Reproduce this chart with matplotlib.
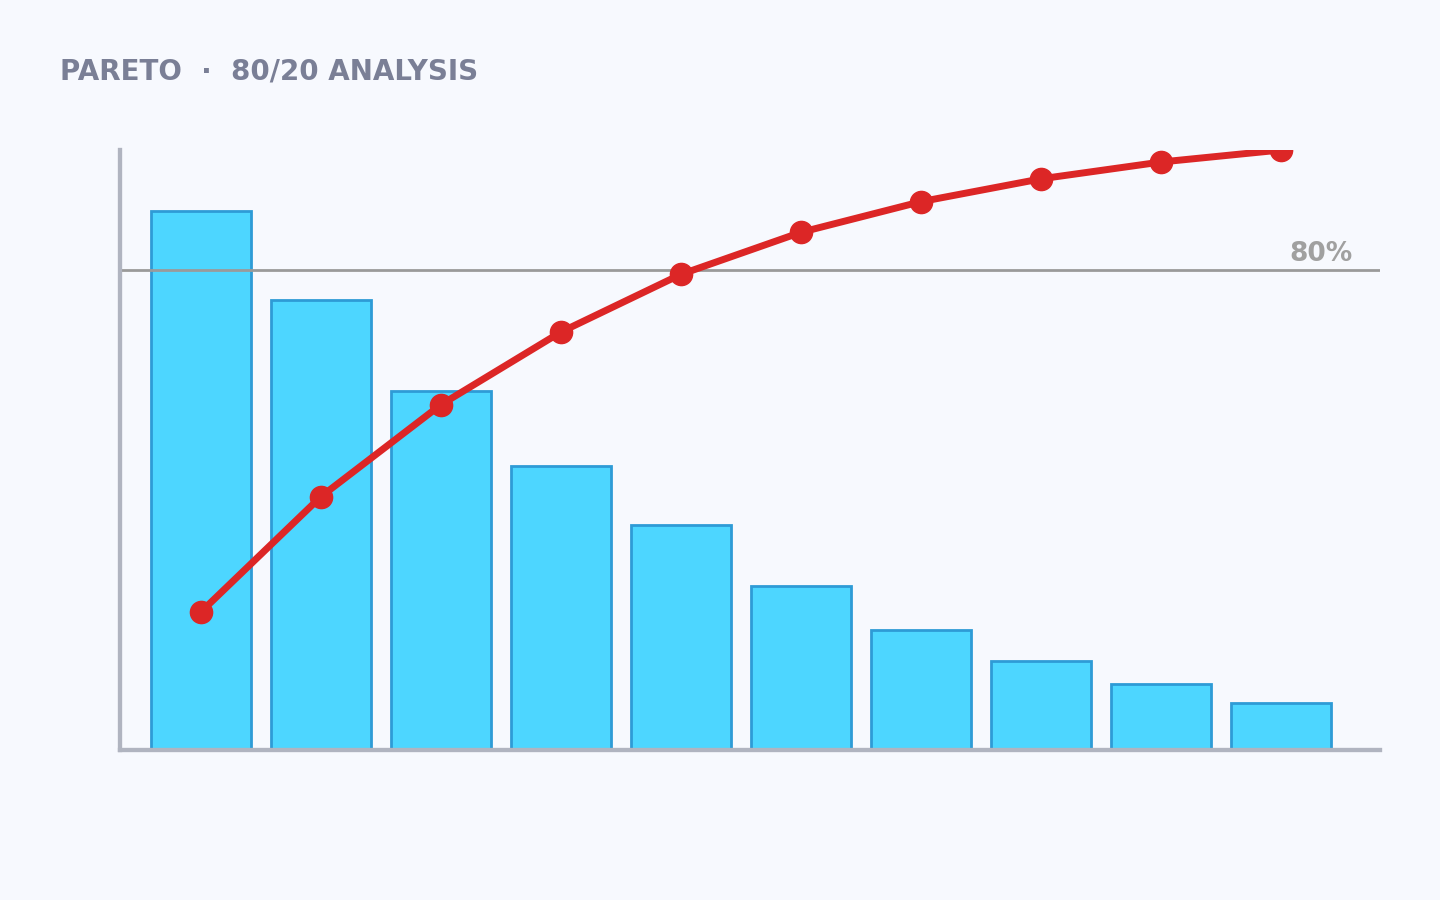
import numpy as np
from matplotlib import pyplot as plt

categories = ['A', 'B', 'C', 'D', 'E', 'F', 'G', 'H', 'I', 'J']
values = [23.0, 19.2, 15.3, 12.1, 9.6, 7.0, 5.1, 3.8, 2.8, 2.0]
threshold = 80

bg = '#F7F9FE'
fig = plt.figure(figsize=(14.4, 9), dpi=100, facecolor=bg)
ax = fig.add_axes([120/1440, 150/900, 1260/1440, 600/900], facecolor=bg)

x = np.arange(len(categories))
ax.bar(x, values, width=0.833, color='#4DD6FF', edgecolor='#2E9BD6', linewidth=2, zorder=2)
ax.set_xlim(-0.675, 9.825)
ax.set_ylim(0, values[0] * 600 / 539)

ax2 = ax.twinx()
cum = np.cumsum(values) / sum(values) * 100
ax2.set_ylim(0, 100)
ax2.axhline(threshold, color='#9A9A9A', lw=2, zorder=1)
ax2.plot(x, cum, color='#DC2626', lw=5, marker='o', ms=16, zorder=3, solid_capstyle='round')
ax2.text(9.6, threshold + 0.5, '80%', ha='right', va='bottom', color='#A0A0A0',
         fontsize=19, fontweight='bold')

for a in (ax, ax2):
    a.set_xticks([])
    a.set_yticks([])
    for s in ('top', 'right'):
        a.spines[s].set_visible(False)
    a.spines['left'].set_color('#B0B4C0')
    a.spines['bottom'].set_color('#B0B4C0')
    a.spines['left'].set_linewidth(3)
    a.spines['bottom'].set_linewidth(3)

fig.text(60/1440, 1 - 72/900, 'PARETO  ·  80/20 ANALYSIS', ha='left', va='center',
         color='#7A7F96', fontsize=20, fontweight='bold')

fig.savefig('out.png', dpi=100, facecolor=bg)
